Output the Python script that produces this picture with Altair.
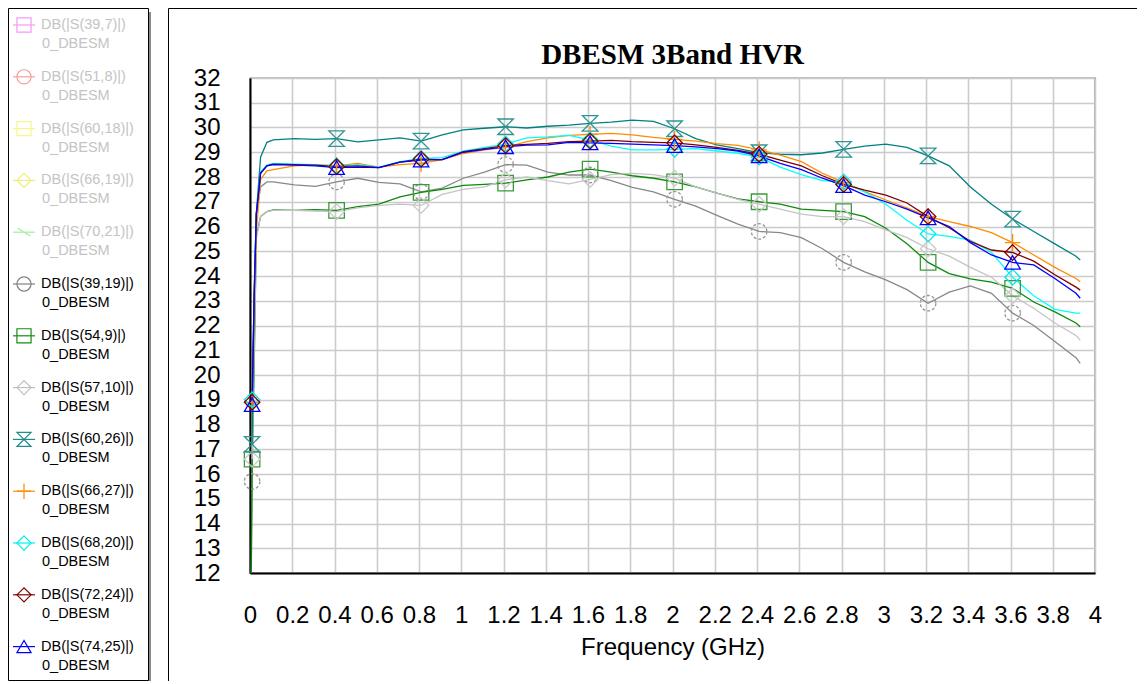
import altair as alt
import pandas as pd

# ---------------- data ----------------
FREQ = [0.005, 0.01, 0.02, 0.03, 0.05, 0.08,
        0.11, 0.21, 0.31, 0.41, 0.51, 0.61, 0.71, 0.81, 0.91, 1.01,
        1.11, 1.21, 1.31, 1.41, 1.51, 1.61, 1.71, 1.81, 1.91, 2.01,
        2.11, 2.21, 2.31, 2.41, 2.51, 2.61, 2.71, 2.81, 2.91, 3.01,
        3.11, 3.21, 3.31, 3.41, 3.51, 3.61, 3.71, 3.81, 3.91,
        3.93]

MARKER_FREQ = [0.01, 0.41, 0.81, 1.21, 1.61, 2.01, 2.41, 2.81, 3.21, 3.61]

S39_19 = [11.0, 15.7, 21.5, 26.5, 27.6, 27.8,
          27.8, 27.68, 27.62, 27.8, 27.95, 27.78, 27.72, 27.4, 27.55, 27.95,
          28.2, 28.5, 28.48, 28.2, 28.08, 28.08, 27.85, 27.58, 27.4, 27.1,
          26.82, 26.45, 26.1, 25.8, 25.75, 25.55, 25.1, 24.55, 24.17, 23.84,
          23.45, 22.9, 23.35, 23.6, 23.3, 22.5, 22.0, 21.35, 20.7,
          20.47]

S54_9 = [11.0, 16.6, 20.5, 25.6, 26.4, 26.6,
         26.67, 26.65, 26.68, 26.65, 26.8, 26.9, 27.2, 27.38, 27.5, 27.66,
         27.7, 27.75, 27.88, 28.0, 28.2, 28.32, 28.2, 28.05, 27.95, 27.8,
         27.6, 27.35, 27.12, 27.0, 26.9, 26.7, 26.65, 26.6, 26.4, 25.93,
         25.3, 24.55, 24.1, 23.88, 23.75, 23.5, 22.95, 22.55, 22.1,
         21.95]

S57_10 = [None, 16.6, 21.0, 25.5, 26.4, 26.6,
          26.65, 26.65, 26.62, 26.6, 26.75, 26.85, 26.9, 26.85, 27.3, 27.5,
          27.6, 27.88, 28.0, 27.85, 27.72, 27.9, 28.1, 28.15, 28.1, 27.95,
          27.6, 27.35, 27.1, 26.9, 26.7, 26.5, 26.4, 26.4, 26.2, 25.86,
          25.55, 25.1, 24.8, 24.35, 23.95, 23.2, 22.7, 22.1, 21.6,
          21.4]

S60_26 = [None, 17.2, 23.0, 26.5, 28.8, 29.4,
          29.5, 29.55, 29.52, 29.55, 29.42, 29.5, 29.58, 29.45, 29.7, 29.9,
          29.97, 30.03, 29.98, 30.05, 30.1, 30.17, 30.22, 30.3, 30.25, 29.95,
          29.55, 29.3, 29.15, 28.98, 28.92, 28.9, 28.97, 29.12, 29.25, 29.33,
          29.2, 28.85, 28.45, 27.6, 26.9, 26.3, 25.8, 25.3, 24.8,
          24.65]

S66_27 = [None, 18.9, 22.5, 25.8, 27.9, 28.25,
          28.3, 28.45, 28.5, 28.45, 28.55, 28.4, 28.5, 28.55, 28.7, 28.95,
          29.1, 29.2, 29.43, 29.58, 29.68, 29.72, 29.76, 29.7, 29.6, 29.52,
          29.45, 29.35, 29.28, 29.1, 28.88, 28.62, 28.15, 27.78, 27.41, 27.07,
          26.75, 26.4, 26.2, 26.0, 25.75, 25.35, 24.85, 24.35, 23.9,
          23.77]

S68_20 = [None, 19.0, 23.5, 26.6, 28.2, 28.48,
          28.55, 28.52, 28.5, 28.45, 28.5, 28.4, 28.62, 28.75, 28.78, 29.05,
          29.2, 29.33, 29.58, 29.62, 29.68, 29.5, 29.25, 29.1, 29.1, 29.12,
          29.15, 29.05, 28.96, 28.8, 28.4, 28.1, 27.85, 27.8, 27.4, 26.9,
          26.25, 25.7, 25.6, 25.45, 24.95, 23.95, 23.2, 22.65, 22.5,
          22.5]

S72_24 = [None, 18.9, 23.3, 26.5, 28.15, 28.45,
          28.52, 28.5, 28.48, 28.42, 28.45, 28.38, 28.6, 28.72, 28.7, 29.02,
          29.15, 29.27, 29.32, 29.36, 29.43, 29.45, 29.48, 29.43, 29.4, 29.38,
          29.3, 29.2, 29.08, 28.92, 28.68, 28.45, 28.05, 27.7, 27.47, 27.27,
          26.95, 26.4, 25.95, 25.4, 25.05, 24.95, 24.6, 24.05, 23.55,
          23.43]

S74_25 = [None, 18.8, 23.3, 26.5, 28.15, 28.45,
          28.5, 28.48, 28.45, 28.38, 28.4, 28.38, 28.6, 28.68, 28.7, 29.0,
          29.12, 29.22, 29.29, 29.3, 29.4, 29.38, 29.36, 29.33, 29.3, 29.27,
          29.22, 29.15, 29.05, 28.85, 28.55, 28.3, 27.95, 27.65, 27.27, 27.0,
          26.7, 26.35, 26.0, 25.35, 24.85, 24.55, 24.45, 23.9, 23.3,
          23.1]

ACTIVE_NAMES = ["DB(|S(39,19)|)", "DB(|S(54,9)|)", "DB(|S(57,10)|)", "DB(|S(60,26)|)",
                "DB(|S(66,27)|)", "DB(|S(68,20)|)", "DB(|S(72,24)|)", "DB(|S(74,25)|)"]
ACTIVE_VALUES = [S39_19, S54_9, S57_10, S60_26, S66_27, S68_20, S72_24, S74_25]

LEG_NAMES = ["DB(|S(39,7)|)", "DB(|S(51,8)|)", "DB(|S(60,18)|)", "DB(|S(66,19)|)",
             "DB(|S(70,21)|)"] + ACTIVE_NAMES
LEG_SUB = ["0_DBESM"] * 13
LEG_ACTIVE = [False] * 5 + [True] * 8

# ---------------- styles ----------------
SQUARE = "square"
CIRCLE = "circle"
DIAMOND = "diamond"
TRIANGLE = "triangle-up"
HOURGLASS = "M-1,-1L1,-1L-1,1L1,1Z"
PLUS = "M-1,0L1,0M0,-1.1L0,1.1"
SLASH = "M-0.9,-0.55L0.9,0.55"

LINE_COLORS = ["#888888", "#0a8a0a", "#c4c4c4", "#008080", "#ff8c00", "#00ffff", "#800000", "#0000ff"]
MARK_COLORS = ["#959595", "#3a9a3a", "#c8c8c8", "#2e9494", "#ff8c00", "#00e8e8", "#800000", "#0000ff"]
MARK_SHAPES = [CIRCLE, SQUARE, DIAMOND, HOURGLASS, PLUS, DIAMOND, DIAMOND, TRIANGLE]
MARK_DASH = [[3, 2], [1, 0], [1, 0], [1, 0], [1, 0], [1, 0], [1, 0], [1, 0]]

LEG_COLORS = ["#f49cf4", "#f4a0a0", "#f6f68a", "#eeee78", "#9ef09e"] + ["#808080", "#148c14", "#c0c0c0",
              "#208c8c", "#ff8c00", "#00eeee", "#800000", "#0000ff"]
LEG_SHAPES = [SQUARE, CIRCLE, SQUARE, DIAMOND, SLASH] + [CIRCLE, SQUARE, DIAMOND, HOURGLASS, PLUS,
              DIAMOND, DIAMOND, TRIANGLE]

X_TICKS = [0, 0.2, 0.4, 0.6, 0.8, 1, 1.2, 1.4, 1.6, 1.8, 2, 2.2, 2.4, 2.6, 2.8, 3, 3.2, 3.4, 3.6, 3.8, 4]
Y_TICKS = list(range(12, 33))

FONT = "Liberation Sans"

# ---------------- tables ----------------
rows = []
for name, vals in zip(ACTIVE_NAMES, ACTIVE_VALUES):
    for f, v in zip(FREQ, vals):
        if v is not None:
            rows.append({"series": name, "f": f, "v": v, "m": f in MARKER_FREQ})
df = pd.DataFrame(rows)

leg = pd.DataFrame({
    "idx": list(range(len(LEG_NAMES))),
    "name": LEG_NAMES,
    "sub": LEG_SUB,
    "col": LEG_COLORS,
    "shp": LEG_SHAPES,
    "tcol": ["#000000" if a else "#c4c4c4" for a in LEG_ACTIVE],
})
one = pd.DataFrame({"k": [0]})

W, H = 845, 495

x_axis = alt.Axis(values=X_TICKS, format="~g", title="Frequency (GHz)", labelFontSize=24,
                  labelFont=FONT, labelColor="black", labelPadding=30, labelFlush=False,
                  labelOverlap=False, ticks=False, domainColor="black",
                  domainWidth=2, grid=True, gridColor="#cbcbcb", gridWidth=1.6, titleFont=FONT,
                  titleFontSize=24, titleFontWeight="normal", titleColor="black",
                  titlePadding=8)
y_axis = alt.Axis(values=Y_TICKS, title=None, labelFontSize=24, labelFont=FONT,
                  labelColor="black", labelPadding=30, labelFlush=False, labelOverlap=False,
                  ticks=False, domainColor="black", domainWidth=2, grid=True,
                  gridColor="#cbcbcb", gridWidth=1.6)

xs = alt.Scale(domain=[0, 4], nice=False, zero=False)
ys = alt.Scale(domain=[12, 32], nice=False, zero=False)

lines = alt.Chart(df).mark_line(strokeWidth=1.3, clip=True).encode(
    x=alt.X("f:Q", scale=xs, axis=x_axis),
    y=alt.Y("v:Q", scale=ys, axis=y_axis),
    color=alt.Color("series:N", scale=alt.Scale(domain=ACTIVE_NAMES, range=LINE_COLORS), legend=None),
    detail="series:N",
)

markers = alt.Chart(df).transform_filter("datum.m").mark_point(
    filled=False, size=240, strokeWidth=1.3, opacity=1).encode(
    x=alt.X("f:Q", scale=xs, axis=x_axis),
    y=alt.Y("v:Q", scale=ys, axis=y_axis),
    shape=alt.Shape("series:N", scale=alt.Scale(domain=ACTIVE_NAMES, range=MARK_SHAPES), legend=None),
    stroke=alt.Stroke("series:N", scale=alt.Scale(domain=ACTIVE_NAMES, range=MARK_COLORS), legend=None),
    strokeDash=alt.StrokeDash("series:N", scale=alt.Scale(domain=ACTIVE_NAMES, range=MARK_DASH), legend=None),
)

# frame around the plot panel (left and top edges)
frame_left = alt.Chart(one).mark_rule(color="black", strokeWidth=1).encode(
    x=alt.value(-81.5), y=alt.value(-69.5), y2=alt.value(620))
frame_top = alt.Chart(one).mark_rule(color="black", strokeWidth=1).encode(
    x=alt.value(-81.5), x2=alt.value(900), y=alt.value(-69.5))

# legend box with shadow
shadow = alt.Chart(one).mark_rect(color="#8a8a8a").encode(
    x=alt.value(-238), x2=alt.value(-99), y=alt.value(-66), y2=alt.value(605))
box = alt.Chart(one).mark_rect(fill="white", stroke="black", strokeWidth=1).encode(
    x=alt.value(-241.5), x2=alt.value(-101.5), y=alt.value(-69.5), y2=alt.value(602.5))

legbase = alt.Chart(leg).transform_calculate(
    ly="-53 + 51.8 * datum.idx", ly2="-34 + 51.8 * datum.idx")
leg_line = legbase.mark_rule(strokeWidth=1.2).encode(
    x=alt.value(-237), x2=alt.value(-215),
    y=alt.Y("ly:Q", scale=None, axis=None),
    color=alt.Color("col:N", scale=None, legend=None))
leg_sym = legbase.mark_point(filled=False, size=200, strokeWidth=1.2, opacity=1).encode(
    x=alt.value(-226),
    y=alt.Y("ly:Q", scale=None, axis=None),
    shape=alt.Shape("shp:N", scale=None, legend=None),
    stroke=alt.Stroke("col:N", scale=None, legend=None))
leg_t1 = legbase.mark_text(align="left", baseline="middle", font=FONT, fontSize=14.5).encode(
    x=alt.value(-209), y=alt.Y("ly:Q", scale=None, axis=None), text="name:N",
    color=alt.Color("tcol:N", scale=None, legend=None))
leg_t2 = legbase.mark_text(align="left", baseline="middle", font=FONT, fontSize=14.5).encode(
    x=alt.value(-208), y=alt.Y("ly2:Q", scale=None, axis=None), text="sub:N",
    color=alt.Color("tcol:N", scale=None, legend=None))

title = alt.Chart(one).mark_text(text="DBESM 3Band HVR", font="Liberation Serif", fontSize=29,
                                 fontWeight="bold", align="center", baseline="middle",
                                 color="black").encode(x=alt.value(W / 2), y=alt.value(-23))

chart = alt.layer(
    frame_left, frame_top, shadow, box, leg_line, leg_sym, leg_t1, leg_t2,
    lines, markers, title
).properties(
    width=W, height=H,
    autosize=alt.AutoSizeParams(type="none"),
    padding={"left": 242, "top": 70, "right": 42, "bottom": 108},
    background="white",
).configure_view(stroke="black", strokeWidth=1.2)

chart.save("out.html", embed_options={"renderer": "svg", "actions": False})
